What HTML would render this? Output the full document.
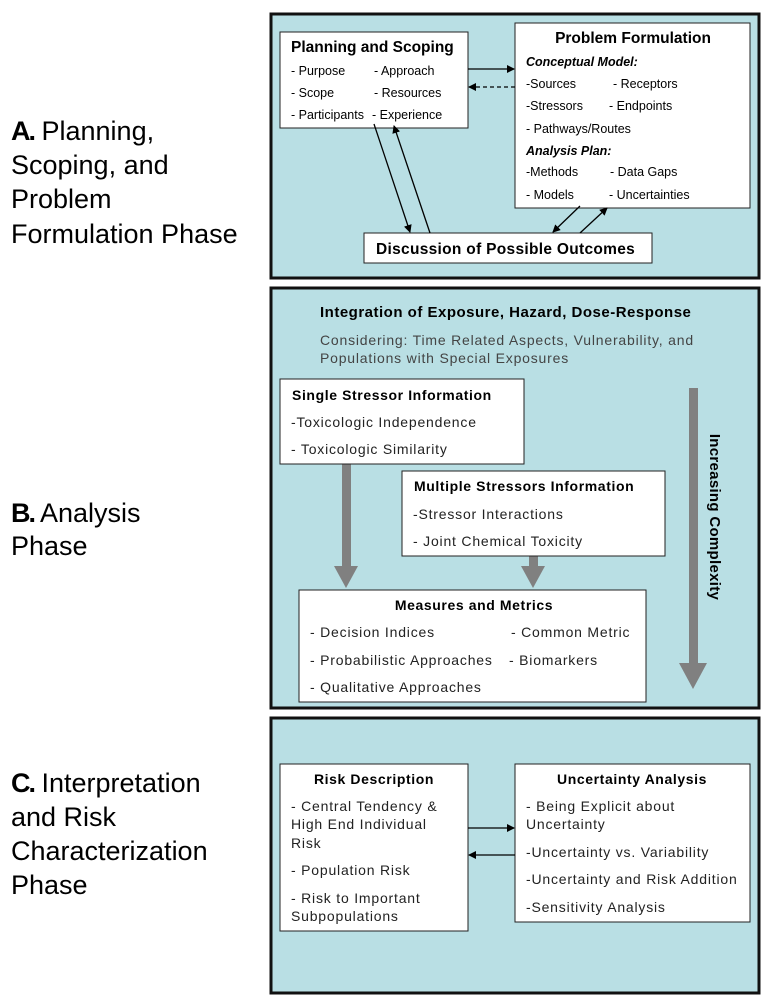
<!DOCTYPE html>
<html><head><meta charset="utf-8"><style>
html,body{margin:0;padding:0;background:#fff;}
svg{display:block;font-family:"Liberation Sans",Arial,sans-serif;}
</style></head><body>
<svg width="772" height="1000" viewBox="0 0 772 1000" xmlns="http://www.w3.org/2000/svg">
<defs>
<marker id="ah" markerWidth="8" markerHeight="8" refX="7" refY="4" orient="auto" markerUnits="userSpaceOnUse"><path d="M0,0 L8,4 L0,8 z" fill="#000"/></marker>
</defs>
<!-- Left labels -->
<g font-size="27" fill="#000">
<text x="11" y="140"><tspan font-weight="bold" letter-spacing="-2">A.</tspan> Planning,</text>
<text x="11" y="174">Scoping, and</text>
<text x="11" y="208">Problem</text>
<text x="11" y="243">Formulation Phase</text>
<text x="11" y="522"><tspan font-weight="bold" letter-spacing="-2">B.</tspan> Analysis</text>
<text x="11" y="555">Phase</text>
<text x="11" y="792"><tspan font-weight="bold" letter-spacing="-2">C.</tspan> Interpretation</text>
<text x="11" y="826">and Risk</text>
<text x="11" y="860">Characterization</text>
<text x="11" y="894">Phase</text>
</g>

<!-- Panel A -->
<rect x="271" y="14" width="488" height="264" fill="#b9dfe4" stroke="#111" stroke-width="3"/>
<rect x="280" y="32" width="188" height="96" fill="#fff" stroke="#222" stroke-width="1"/>
<text x="291" y="52" font-size="15.5" font-weight="bold">Planning and Scoping</text>
<g font-size="12.5">
<text x="291" y="75">- Purpose</text><text x="374" y="75">- Approach</text>
<text x="291" y="97">- Scope</text><text x="374" y="97">- Resources</text>
<text x="291" y="119">- Participants</text><text x="372" y="119">- Experience</text>
</g>
<rect x="515" y="23" width="235" height="185" fill="#fff" stroke="#222" stroke-width="1"/>
<text x="633" y="43" font-size="15.5" font-weight="bold" text-anchor="middle">Problem Formulation</text>
<g font-size="12.5">
<text x="526" y="66" font-weight="bold" font-style="italic">Conceptual Model:</text>
<text x="526" y="88">-Sources</text><text x="613" y="88">- Receptors</text>
<text x="526" y="110">-Stressors</text><text x="609" y="110">- Endpoints</text>
<text x="526" y="133">- Pathways/Routes</text>
<text x="526" y="155" font-weight="bold" font-style="italic">Analysis Plan:</text>
<text x="526" y="176">-Methods</text><text x="610" y="176">- Data Gaps</text>
<text x="526" y="199">- Models</text><text x="609" y="199">- Uncertainties</text>
</g>
<rect x="364" y="233" width="288" height="30" fill="#fff" stroke="#222" stroke-width="1"/>
<text x="376" y="254" font-size="15.5" font-weight="bold" letter-spacing="0.3">Discussion of Possible Outcomes</text>
<line x1="468" y1="69" x2="514" y2="69" stroke="#000" stroke-width="1.3" marker-end="url(#ah)"/>
<line x1="515" y1="87" x2="469" y2="87" stroke="#000" stroke-width="1.3" stroke-dasharray="4,3" marker-end="url(#ah)"/>
<line x1="374" y1="124" x2="410" y2="232" stroke="#000" stroke-width="1.3" marker-end="url(#ah)"/>
<line x1="430" y1="233" x2="394" y2="126" stroke="#000" stroke-width="1.3" marker-end="url(#ah)"/>
<line x1="580" y1="206" x2="553" y2="232" stroke="#000" stroke-width="1.3" marker-end="url(#ah)"/>
<line x1="580" y1="233" x2="607" y2="208" stroke="#000" stroke-width="1.3" marker-end="url(#ah)"/>

<!-- Panel B -->
<rect x="271" y="288" width="488" height="420" fill="#b9dfe4" stroke="#111" stroke-width="3"/>
<text x="320" y="317" font-size="15" font-weight="bold" letter-spacing="0.5">Integration of Exposure, Hazard, Dose-Response</text>
<text x="320" y="345" font-size="14" fill="#444" letter-spacing="0.8">Considering: Time Related Aspects, Vulnerability, and</text>
<text x="320" y="363" font-size="14" fill="#444" letter-spacing="0.8">Populations with Special Exposures</text>
<!-- gray arrows -->
<rect x="342" y="464" width="9" height="104" fill="#808080"/>
<polygon points="334,566 358,566 346,588" fill="#808080"/>
<rect x="529" y="556" width="9" height="12" fill="#808080"/>
<polygon points="521,566 545,566 533,588" fill="#808080"/>
<rect x="689" y="388" width="9" height="280" fill="#808080"/>
<polygon points="679,663 707,663 693,689" fill="#808080"/>
<text transform="translate(710,517) rotate(90)" font-size="15" font-weight="bold" text-anchor="middle" letter-spacing="0.3">Increasing Complexity</text>

<rect x="280" y="379" width="244" height="85" fill="#fff" stroke="#222" stroke-width="1"/>
<text x="292" y="400" font-size="14" font-weight="bold" letter-spacing="0.6">Single Stressor Information</text>
<g font-size="14" fill="#222" letter-spacing="0.8">
<text x="291" y="427">-Toxicologic Independence</text>
<text x="291" y="454">- Toxicologic Similarity</text>
</g>

<rect x="402" y="471" width="263" height="85" fill="#fff" stroke="#222" stroke-width="1"/>
<text x="414" y="491" font-size="14" font-weight="bold" letter-spacing="0.6">Multiple Stressors Information</text>
<g font-size="14" fill="#222" letter-spacing="0.8">
<text x="413" y="519">-Stressor Interactions</text>
<text x="413" y="546">- Joint Chemical Toxicity</text>
</g>

<rect x="299" y="590" width="347" height="112" fill="#fff" stroke="#222" stroke-width="1"/>
<text x="474" y="610" font-size="14" font-weight="bold" text-anchor="middle" letter-spacing="0.6">Measures and Metrics</text>
<g font-size="14" fill="#222" letter-spacing="0.8">
<text x="310" y="637">-  Decision Indices</text><text x="511" y="637">- Common Metric</text>
<text x="310" y="665">-  Probabilistic Approaches</text><text x="509" y="665">- Biomarkers</text>
<text x="310" y="692">-  Qualitative Approaches</text>
</g>

<!-- Panel C -->
<rect x="271" y="718" width="488" height="275" fill="#b9dfe4" stroke="#111" stroke-width="3"/>
<rect x="280" y="764" width="188" height="167" fill="#fff" stroke="#222" stroke-width="1"/>
<text x="374" y="784" font-size="14" font-weight="bold" text-anchor="middle" letter-spacing="0.6">Risk Description</text>
<g font-size="14" fill="#222" letter-spacing="0.8">
<text x="291" y="811">- Central Tendency &amp;</text>
<text x="291" y="829">High End Individual</text>
<text x="291" y="848">Risk</text>
<text x="291" y="875">-  Population Risk</text>
<text x="291" y="903">-  Risk to Important</text>
<text x="291" y="921">Subpopulations</text>
</g>
<rect x="515" y="764" width="235" height="158" fill="#fff" stroke="#222" stroke-width="1"/>
<text x="632" y="784" font-size="14" font-weight="bold" text-anchor="middle" letter-spacing="0.6">Uncertainty Analysis</text>
<g font-size="14" fill="#222" letter-spacing="0.8">
<text x="526" y="811">-  Being Explicit about</text>
<text x="526" y="829">Uncertainty</text>
<text x="526" y="857">-Uncertainty vs. Variability</text>
<text x="526" y="884">-Uncertainty and Risk Addition</text>
<text x="526" y="912">-Sensitivity Analysis</text>
</g>
<line x1="468" y1="828" x2="514" y2="828" stroke="#000" stroke-width="1.3" marker-end="url(#ah)"/>
<line x1="515" y1="855" x2="469" y2="855" stroke="#000" stroke-width="1.3" marker-end="url(#ah)"/>
</svg>
</body></html>
